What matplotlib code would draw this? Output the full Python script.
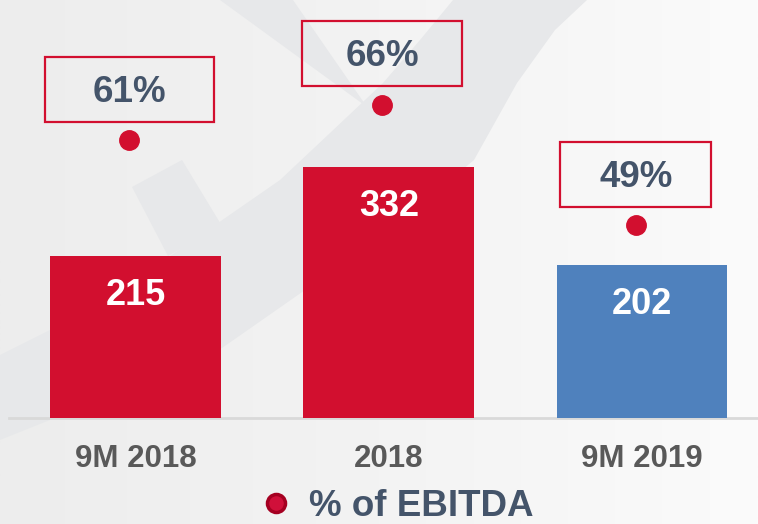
import matplotlib.pyplot as plt
import numpy as np
from matplotlib.colors import LinearSegmentedColormap
from matplotlib.lines import Line2D
from matplotlib.patches import Polygon, Rectangle
from matplotlib.transforms import ScaledTranslation

periods = ["9M 2018", "2018", "9M 2019"]
amounts = [215, 332, 202]
ebitda_share = [61, 66, 49]

RED = "#D20F2F"
BLUE = "#4F81BD"
SLATE = "#44546A"
GRAY_TEXT = "#595959"
bar_colors = [RED, RED, BLUE]
box_widths = [169, 160, 151]  # px

plt.rcParams["font.family"] = ["Liberation Sans", "DejaVu Sans"]
plt.rcParams["font.weight"] = "bold"

fig = plt.figure(figsize=(7.58, 5.24), dpi=100)

# background: soft gradient with the faint logo swoosh
bg = fig.add_axes([0, 0, 1, 1], zorder=0)
bg.axis("off")
grad = np.linspace(0, 1, 256).reshape(1, -1)
cmap = LinearSegmentedColormap.from_list("bg", ["#EDEDED", "#F3F3F3", "#FBFBFB"])
bg.imshow(grad, cmap=cmap, extent=(0, 758, 524, 0), aspect="auto")
swoosh = "#E7E8EA"
bg.add_patch(Polygon([(220, 0), (293, 0), (367, 107)], color=swoosh, lw=0))
bg.add_patch(Polygon([(453, 0), (420, 40), (383, 83), (330, 133), (280, 180),
                      (218, 223), (150, 270), (60, 325), (0, 355),
                      (0, 440), (100, 400), (222, 348), (338, 267), (420, 205),
                      (474, 160), (517, 83), (555, 30), (587, 0)],
                     color=swoosh, lw=0))
bg.add_patch(Polygon([(132, 187), (182, 160), (222, 226), (168, 256)], color=swoosh, lw=0))
bg.set_xlim(0, 758)
bg.set_ylim(524, 0)

ax = fig.add_axes([9 / 758, 106 / 524, 749 / 758, 418 / 524], zorder=1)
ax.set_facecolor("none")
x = np.arange(len(periods))
ax.bar(x, amounts, width=0.675, color=bar_colors, zorder=2)
ax.axhline(0, color="#D9D9D9", lw=2, zorder=1, clip_on=False)
ax.set_xlim(-0.5, 2.458)
ax.set_ylim(0, 553.6)
for s in ax.spines.values():
    s.set_visible(False)
ax.set_yticks([])
ax.set_xticks(x)
ax.set_xticklabels(periods, fontsize=22.5, color=GRAY_TEXT, fontweight="bold")
ax.tick_params(axis="x", length=0, pad=19)

for xi, v in zip(x, amounts):
    ax.annotate(str(v), (xi, v), xytext=(0, -49 * 0.72), textcoords="offset points",
                ha="center", va="baseline", color="white", fontsize=26,
                fontweight="bold", zorder=3)

# % of EBITDA markers with boxed labels
ax2 = ax.twinx()
ax2.set_ylim(21.9, 80.7)
ax2.axis("off")
xd = x - 0.025
ax2.plot(xd, ebitda_share, "o", ms=14, color=RED, ls="none")
for xi, p, w in zip(xd, ebitda_share, box_widths):
    trans = fig.dpi_scale_trans + ScaledTranslation(xi, p, ax2.transData)
    ax2.add_patch(Rectangle((-w / 200, 0.185), w / 100, 0.65, transform=trans,
                            fill=False, ec=RED, lw=1.6, clip_on=False))
    ax2.annotate(f"{p}%", (xi, p), xytext=(0, 38 * 0.72), textcoords="offset points",
                 ha="center", va="baseline", color=SLATE, fontsize=26.5,
                 fontweight="bold")

handle = Line2D([], [], marker="o", ls="none", ms=13, markerfacecolor="#D0103A",
                markeredgecolor="#A50021", markeredgewidth=2.5)
fig.legend(handles=[handle], labels=["% of EBITDA"], loc="center",
           bbox_to_anchor=(0.527, 0.034), frameon=False,
           labelcolor=SLATE, handlelength=0.6, handletextpad=0.6,
           borderpad=0.2, prop={"weight": "bold", "size": 26.5})

fig.savefig("out.png", dpi=100)
